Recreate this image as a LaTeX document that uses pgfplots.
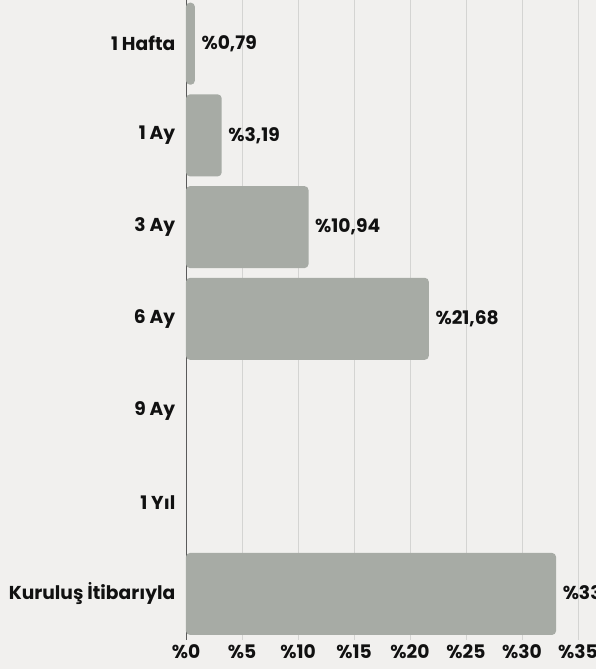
\documentclass[border=0pt]{standalone}
\usepackage{fontspec}
\setmainfont{Poppins}
\usepackage{pgfplots}
\pgfplotsset{compat=1.18}
\definecolor{bg}{HTML}{F1F0EE}
\definecolor{barc}{HTML}{A7ABA5}
\definecolor{gridc}{HTML}{D4D4D2}
\definecolor{axc}{HTML}{5A5A5A}
\definecolor{txt}{HTML}{111111}
\begin{document}
\begin{tikzpicture}
\fill[bg] (-139.5pt,-21.9pt) rectangle (307.5pt,479.85pt);
\useasboundingbox (-139.5pt,-21.9pt) rectangle (307.5pt,479.85pt);
\begin{axis}[
    scale only axis,
    width=294pt, height=481.5pt,
    xbar, bar width=61.5pt,
    xmin=0, xmax=35,
    ymin=-0.5, ymax=6.5, y dir=reverse,
    ytick={0,1,2,3,4,5,6},
    yticklabels={1 Hafta,1 Ay,3 Ay,6 Ay,9 Ay,1 Yıl,Kuruluş İtibarıyla},
    xtick={0,5,10,15,20,25,30,35},
    xticklabels={\%0,\%5,\%10,\%15,\%20,\%25,\%30,\%35},
    separate axis lines,
    axis x line*=bottom, axis y line*=left,
    x axis line style={draw=none},
    y axis line style={-, draw=axc, line width=0.7pt},
    major tick length=0,
    xmajorgrids, grid style={gridc, line width=0.7pt},
    tick label style={font=\fontsize{14}{16}\selectfont\bfseries, text=txt},
    yticklabel style={xshift=-4.5pt},
    clip=false,
    point meta=explicit symbolic,
    nodes near coords,
    every node near coord/.append style={anchor=west, xshift=1.5pt, text=txt,
        font=\fontsize{14}{16}\selectfont\bfseries},
]
\addplot[fill=barc, draw=none, rounded corners=3pt] coordinates {
    (0.79,0) [\%0,79]
    (3.19,1) [\%3,19]
    (10.94,2) [\%10,94]
    (21.68,3) [\%21,68]
    (33.04,6) [\%33,04]
};
\end{axis}
\end{tikzpicture}
\end{document}
